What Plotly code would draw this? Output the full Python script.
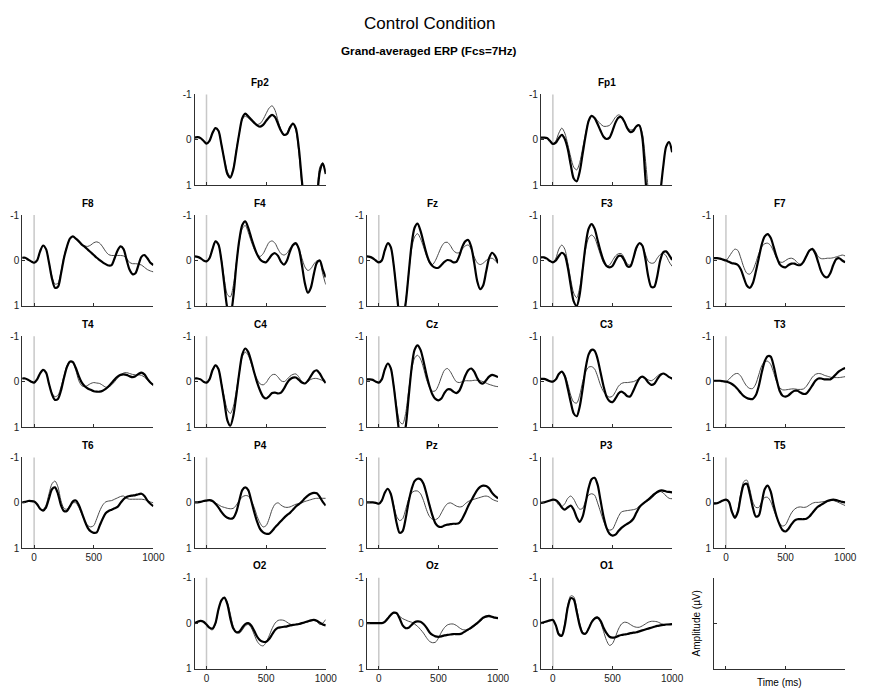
import plotly.graph_objects as go

# ---------------- data (µV, time in ms) ----------------
TIME = list(range(-100, 1001, 25))
X_TICKS = [0, 500, 1000]
Y_TICKS = [-1, 0, 1]

# thick trace (A) and thin trace (B) for each channel, sampled on TIME
FP2_A = [-0.05,-0.06,-0.04,0.02,0.08,0.02,-0.15,-0.26,-0.2,0.1,0.45,0.75,0.83,0.65,0.25,-0.15,-0.48,-0.58,-0.52,-0.45,-0.38,-0.32,-0.29,-0.33,-0.42,-0.5,-0.55,-0.5,-0.35,-0.2,-0.11,-0.13,-0.27,-0.36,-0.25,0.2,0.9,1.5,1.8,1.8,1.6,1.3,0.7,0.52,0.75]
FP2_B = [-0.05,-0.06,-0.04,0.02,0.08,0.02,-0.15,-0.26,-0.2,0.1,0.42,0.7,0.8,0.62,0.22,-0.15,-0.45,-0.52,-0.48,-0.42,-0.36,-0.34,-0.36,-0.45,-0.58,-0.7,-0.75,-0.65,-0.42,-0.22,-0.12,-0.15,-0.3,-0.37,-0.2,0.3,1.0,1.5,1.8,1.8,1.6,1.2,0.6,0.5,0.75]
FP1_A = [-0.05,-0.05,-0.04,0.02,0.09,0.06,-0.04,-0.11,-0.02,0.2,0.55,0.85,0.91,0.7,0.3,-0.1,-0.42,-0.53,-0.48,-0.35,-0.2,-0.07,-0.02,-0.05,-0.2,-0.38,-0.49,-0.5,-0.4,-0.25,-0.17,-0.2,-0.3,-0.32,-0.05,0.8,1.6,2.0,2.0,1.8,1.2,0.6,0.15,0.05,0.27]
FP1_B = [-0.05,-0.05,-0.04,0.02,0.08,0.02,-0.15,-0.26,-0.15,0.1,0.38,0.6,0.66,0.5,0.18,-0.15,-0.43,-0.53,-0.5,-0.42,-0.35,-0.3,-0.3,-0.32,-0.4,-0.5,-0.55,-0.52,-0.4,-0.28,-0.22,-0.23,-0.3,-0.32,-0.15,0.4,1.1,1.7,2.0,2.0,1.9,1.8,1.7,1.6,1.5]
F8_A = [-0.06,-0.06,-0.02,0.02,0.05,0.0,-0.2,-0.33,-0.25,0.05,0.4,0.6,0.58,0.3,-0.05,-0.3,-0.48,-0.53,-0.48,-0.42,-0.35,-0.3,-0.24,-0.18,-0.12,-0.06,-0.01,0.04,0.08,0.11,0.1,-0.05,-0.22,-0.31,-0.25,-0.02,0.2,0.3,0.28,0.1,-0.08,-0.12,-0.05,0.05,0.1]
F8_B = [-0.06,-0.06,-0.02,0.02,0.05,0.0,-0.2,-0.33,-0.25,0.05,0.35,0.52,0.5,0.25,-0.08,-0.32,-0.48,-0.53,-0.48,-0.42,-0.35,-0.32,-0.31,-0.34,-0.39,-0.41,-0.38,-0.3,-0.2,-0.13,-0.11,-0.11,-0.11,-0.11,-0.1,-0.05,0.04,0.07,0.07,0.08,0.1,0.15,0.2,0.23,0.25]
F4_A = [-0.09,-0.08,-0.05,0.0,0.02,-0.05,-0.25,-0.42,-0.35,0.0,0.55,1.05,1.2,0.8,0.1,-0.45,-0.78,-0.86,-0.72,-0.5,-0.3,-0.13,-0.02,0.03,0.04,-0.04,-0.13,-0.16,-0.1,0.03,0.09,0.0,-0.2,-0.34,-0.38,-0.25,0.1,0.5,0.71,0.6,0.3,0.05,0.0,0.2,0.37]
F4_B = [-0.09,-0.08,-0.05,0.0,0.02,-0.05,-0.25,-0.42,-0.35,-0.02,0.42,0.75,0.8,0.55,0.05,-0.42,-0.7,-0.77,-0.62,-0.42,-0.25,-0.13,-0.09,-0.15,-0.28,-0.4,-0.43,-0.38,-0.25,-0.15,-0.12,-0.16,-0.26,-0.33,-0.35,-0.25,-0.05,0.14,0.22,0.18,0.08,0.01,0.02,0.3,0.53]
FZ_A = [-0.09,-0.08,-0.05,0.0,0.04,0.0,-0.22,-0.38,-0.3,0.1,0.7,1.2,1.3,0.95,0.3,-0.35,-0.72,-0.81,-0.65,-0.4,-0.15,0.03,0.12,0.16,0.16,0.1,0.03,-0.01,0.0,0.04,0.03,-0.1,-0.3,-0.42,-0.45,-0.3,0.05,0.45,0.63,0.55,0.25,-0.05,-0.17,-0.1,0.06]
FZ_B = [-0.09,-0.08,-0.05,0.0,0.04,0.0,-0.22,-0.38,-0.3,0.1,0.65,1.15,1.25,0.9,0.3,-0.25,-0.52,-0.59,-0.48,-0.3,-0.1,0.05,0.09,0.0,-0.15,-0.3,-0.39,-0.4,-0.33,-0.22,-0.17,-0.17,-0.25,-0.32,-0.34,-0.25,-0.08,0.05,0.09,0.06,0.0,-0.04,-0.05,0.0,0.06]
F3_A = [-0.07,-0.07,-0.04,0.01,0.04,0.0,-0.1,-0.17,-0.12,0.15,0.55,0.9,1.0,0.75,0.2,-0.35,-0.7,-0.8,-0.7,-0.45,-0.2,0.0,0.12,0.15,0.12,0.0,-0.1,-0.1,0.0,0.13,0.13,-0.05,-0.28,-0.38,-0.33,-0.05,0.35,0.58,0.58,0.35,0.0,-0.18,-0.2,-0.12,-0.01]
F3_B = [-0.07,-0.07,-0.04,0.01,0.04,-0.05,-0.25,-0.34,-0.25,0.05,0.42,0.72,0.82,0.6,0.15,-0.25,-0.5,-0.56,-0.5,-0.32,-0.12,0.05,0.12,0.1,0.0,-0.1,-0.15,-0.15,-0.05,0.08,0.1,-0.05,-0.25,-0.37,-0.33,-0.15,0.02,0.06,0.05,-0.05,-0.13,-0.16,-0.1,0.03,0.13]
F7_A = [-0.05,-0.05,-0.04,-0.02,0.0,0.03,0.06,0.07,0.1,0.2,0.38,0.55,0.6,0.5,0.25,-0.05,-0.35,-0.53,-0.58,-0.5,-0.3,-0.08,0.08,0.14,0.15,0.1,0.07,0.07,0.1,0.1,0.03,-0.1,-0.22,-0.25,-0.15,0.05,0.25,0.35,0.37,0.28,0.1,-0.03,-0.05,0.0,0.04]
F7_B = [-0.05,-0.05,-0.04,-0.02,0.0,-0.08,-0.18,-0.25,-0.22,-0.05,0.15,0.28,0.3,0.22,0.05,-0.15,-0.3,-0.37,-0.38,-0.33,-0.2,-0.05,0.03,0.04,0.0,-0.04,-0.05,-0.02,0.05,0.08,0.03,-0.1,-0.22,-0.27,-0.2,-0.08,-0.04,-0.04,-0.05,-0.05,-0.06,-0.08,-0.1,-0.12,-0.1]
T4_A = [-0.07,-0.07,-0.04,0.0,0.02,-0.05,-0.18,-0.26,-0.2,0.05,0.28,0.4,0.38,0.2,-0.08,-0.32,-0.44,-0.43,-0.3,-0.12,0.02,0.1,0.15,0.18,0.21,0.22,0.22,0.2,0.16,0.1,0.03,-0.05,-0.11,-0.15,-0.16,-0.15,-0.12,-0.1,-0.12,-0.17,-0.2,-0.16,-0.06,0.02,0.07]
T4_B = [-0.07,-0.07,-0.04,0.0,0.02,-0.05,-0.18,-0.26,-0.2,0.05,0.25,0.33,0.3,0.12,-0.12,-0.35,-0.45,-0.42,-0.25,-0.02,0.09,0.11,0.08,0.04,0.02,0.03,0.04,0.08,0.12,0.12,0.07,0.0,-0.08,-0.15,-0.19,-0.2,-0.18,-0.16,-0.15,-0.15,-0.14,-0.1,-0.04,0.03,0.09]
C4_A = [-0.07,-0.07,-0.05,0.0,0.02,-0.05,-0.25,-0.36,-0.28,0.05,0.45,0.85,0.97,0.75,0.3,-0.2,-0.6,-0.73,-0.65,-0.45,-0.2,0.02,0.2,0.33,0.37,0.32,0.25,0.24,0.26,0.24,0.15,0.03,-0.05,-0.09,-0.09,-0.04,0.02,0.04,-0.02,-0.12,-0.22,-0.25,-0.18,-0.06,0.03]
C4_B = [-0.07,-0.07,-0.05,0.0,0.02,-0.05,-0.25,-0.36,-0.28,0.03,0.35,0.62,0.7,0.55,0.2,-0.2,-0.55,-0.65,-0.58,-0.4,-0.2,-0.05,0.05,0.07,0.02,-0.08,-0.15,-0.16,-0.1,-0.02,0.0,-0.05,-0.12,-0.16,-0.17,-0.1,0.0,0.04,0.0,-0.05,-0.07,-0.07,-0.05,-0.02,0.02]
CZ_A = [-0.05,-0.05,-0.04,0.0,0.02,-0.05,-0.27,-0.4,-0.3,0.1,0.65,1.15,1.3,1.0,0.35,-0.3,-0.7,-0.8,-0.7,-0.45,-0.15,0.1,0.28,0.38,0.41,0.37,0.25,0.17,0.17,0.22,0.25,0.2,0.05,-0.13,-0.25,-0.29,-0.22,-0.08,0.02,0.04,-0.03,-0.11,-0.15,-0.13,-0.1]
CZ_B = [-0.05,-0.05,-0.04,0.0,0.02,-0.05,-0.27,-0.4,-0.3,0.08,0.55,0.88,0.93,0.7,0.2,-0.25,-0.52,-0.58,-0.5,-0.3,-0.05,0.12,0.21,0.2,0.08,-0.1,-0.25,-0.29,-0.22,-0.1,0.0,0.02,0.0,-0.02,-0.02,-0.02,-0.03,-0.03,-0.02,0.0,0.03,0.06,0.08,0.1,0.11]
C3_A = [-0.06,-0.06,-0.04,-0.01,0.0,-0.05,-0.17,-0.22,-0.12,0.15,0.45,0.7,0.76,0.55,0.15,-0.3,-0.6,-0.7,-0.68,-0.5,-0.2,0.1,0.33,0.43,0.45,0.37,0.26,0.22,0.26,0.32,0.32,0.2,0.05,-0.07,-0.11,-0.07,0.02,0.07,0.05,-0.05,-0.14,-0.18,-0.15,-0.1,-0.07]
C3_B = [-0.06,-0.06,-0.04,-0.01,0.0,-0.05,-0.17,-0.22,-0.14,0.05,0.3,0.45,0.47,0.3,0.0,-0.22,-0.32,-0.33,-0.28,-0.12,0.08,0.22,0.3,0.34,0.32,0.22,0.1,0.04,0.02,0.02,0.01,0.0,-0.03,-0.07,-0.11,-0.08,-0.04,-0.02,-0.06,-0.12,-0.17,-0.18,-0.15,-0.1,-0.05]
T3_A = [-0.02,-0.02,-0.02,-0.01,0.0,0.02,0.05,0.1,0.17,0.25,0.32,0.36,0.38,0.38,0.3,0.1,-0.2,-0.45,-0.56,-0.55,-0.35,-0.05,0.2,0.31,0.33,0.3,0.24,0.2,0.2,0.24,0.27,0.26,0.18,0.08,-0.02,-0.07,-0.07,-0.05,-0.05,-0.05,-0.1,-0.17,-0.23,-0.27,-0.3]
T3_B = [-0.02,-0.02,-0.02,-0.01,0.0,-0.05,-0.12,-0.17,-0.18,-0.12,0.0,0.1,0.15,0.15,0.05,-0.15,-0.35,-0.44,-0.45,-0.38,-0.2,0.0,0.13,0.18,0.18,0.17,0.16,0.16,0.17,0.17,0.16,0.1,0.0,-0.1,-0.16,-0.18,-0.17,-0.14,-0.12,-0.1,-0.09,-0.09,-0.09,-0.1,-0.11]
T6_A = [-0.01,-0.02,-0.04,-0.04,-0.03,0.03,0.13,0.17,0.1,-0.1,-0.3,-0.34,-0.2,0.05,0.18,0.18,0.08,-0.03,-0.05,0.05,0.22,0.4,0.55,0.63,0.66,0.65,0.5,0.35,0.23,0.18,0.15,0.12,0.09,0.0,-0.08,-0.13,-0.15,-0.16,-0.17,-0.19,-0.2,-0.15,-0.05,0.02,0.07]
T6_B = [-0.01,-0.02,-0.04,-0.04,-0.03,0.03,0.13,0.15,0.05,-0.2,-0.42,-0.48,-0.35,-0.05,0.12,0.14,0.06,0.0,0.0,0.1,0.25,0.4,0.5,0.53,0.5,0.35,0.18,0.05,-0.02,-0.04,-0.05,-0.08,-0.11,-0.14,-0.15,-0.1,-0.08,-0.08,-0.08,-0.08,-0.08,-0.07,-0.05,-0.02,0.0]
P4_A = [-0.01,-0.01,-0.02,-0.04,-0.05,-0.06,-0.04,0.02,0.1,0.2,0.28,0.33,0.35,0.33,0.2,-0.05,-0.28,-0.34,-0.28,-0.05,0.2,0.42,0.58,0.65,0.68,0.68,0.62,0.54,0.47,0.4,0.33,0.27,0.22,0.15,0.08,0.03,-0.03,-0.1,-0.16,-0.2,-0.22,-0.21,-0.13,-0.02,0.06]
P4_B = [-0.01,-0.01,-0.02,-0.04,-0.05,-0.05,-0.03,0.0,0.04,0.08,0.1,0.12,0.13,0.12,0.05,-0.05,-0.13,-0.16,-0.15,-0.05,0.1,0.3,0.45,0.53,0.5,0.35,0.15,0.03,0.0,0.05,0.09,0.1,0.09,0.06,0.03,0.02,0.0,-0.03,-0.05,-0.07,-0.09,-0.1,-0.1,-0.1,-0.1]
PZ_A = [-0.01,-0.01,-0.01,0.0,0.02,-0.05,-0.22,-0.31,-0.2,0.1,0.45,0.66,0.62,0.35,-0.02,-0.3,-0.48,-0.53,-0.52,-0.42,-0.2,0.05,0.28,0.45,0.52,0.53,0.5,0.48,0.47,0.46,0.46,0.44,0.35,0.22,0.07,-0.05,-0.17,-0.28,-0.35,-0.38,-0.37,-0.32,-0.22,-0.15,-0.1]
PZ_B = [-0.01,-0.01,-0.01,0.0,0.02,-0.05,-0.22,-0.31,-0.2,0.05,0.3,0.39,0.35,0.15,-0.08,-0.22,-0.26,-0.26,-0.2,-0.05,0.15,0.3,0.36,0.37,0.33,0.22,0.1,0.02,0.0,0.03,0.07,0.09,0.08,0.02,-0.03,-0.06,-0.08,-0.1,-0.12,-0.14,-0.15,-0.13,-0.08,-0.05,-0.03]
P3_A = [0.0,-0.01,-0.03,-0.05,-0.07,-0.06,0.0,0.1,0.15,0.1,0.06,0.15,0.32,0.42,0.3,0.0,-0.33,-0.52,-0.55,-0.4,-0.05,0.3,0.55,0.68,0.72,0.7,0.62,0.55,0.5,0.46,0.42,0.35,0.22,0.1,0.03,-0.02,-0.07,-0.13,-0.19,-0.24,-0.27,-0.27,-0.25,-0.24,-0.23]
P3_B = [0.0,-0.01,-0.03,-0.05,-0.07,-0.04,0.05,0.08,0.02,-0.1,-0.15,-0.08,0.05,0.14,0.12,-0.05,-0.17,-0.2,-0.17,0.0,0.2,0.4,0.55,0.6,0.58,0.45,0.3,0.2,0.18,0.17,0.16,0.15,0.13,0.07,0.02,-0.02,-0.05,-0.1,-0.16,-0.22,-0.25,-0.22,-0.15,-0.1,-0.09]
T5_A = [0.02,0.01,-0.02,-0.05,-0.07,-0.02,0.2,0.33,0.2,-0.15,-0.4,-0.42,-0.2,0.1,0.3,0.28,0.0,-0.3,-0.38,-0.25,0.05,0.3,0.48,0.6,0.63,0.57,0.47,0.39,0.36,0.36,0.36,0.35,0.3,0.22,0.14,0.08,0.04,0.0,-0.04,-0.06,-0.07,-0.06,-0.04,-0.02,-0.01]
T5_B = [0.02,0.01,-0.02,-0.05,-0.07,-0.02,0.18,0.3,0.15,-0.22,-0.47,-0.5,-0.3,-0.02,0.1,0.1,-0.02,-0.12,-0.12,-0.03,0.15,0.32,0.45,0.51,0.48,0.35,0.22,0.14,0.1,0.09,0.1,0.09,0.05,0.01,-0.01,-0.01,-0.02,-0.03,-0.04,-0.05,-0.05,-0.03,0.0,0.03,0.06]
O2_A = [0.0,-0.03,-0.05,-0.03,0.03,0.1,0.12,0.0,-0.3,-0.5,-0.56,-0.42,-0.1,0.12,0.2,0.19,0.1,0.02,0.0,0.05,0.17,0.3,0.38,0.41,0.41,0.35,0.25,0.15,0.1,0.09,0.08,0.07,0.05,0.04,0.03,0.02,0.0,-0.02,-0.04,-0.06,-0.07,-0.05,-0.01,0.03,0.05]
O2_B = [0.0,-0.03,-0.05,-0.03,0.03,0.12,0.15,0.02,-0.28,-0.5,-0.56,-0.45,-0.2,0.08,0.2,0.22,0.15,0.06,0.03,0.1,0.25,0.4,0.48,0.5,0.42,0.28,0.12,0.0,-0.06,-0.07,-0.06,-0.02,0.02,0.04,0.03,0.02,0.01,-0.01,-0.03,-0.05,-0.06,-0.04,0.03,0.0,-0.08]
OZ_A = [0.0,0.0,0.0,0.0,0.0,0.0,-0.03,-0.1,-0.18,-0.23,-0.22,-0.1,0.05,0.11,0.1,0.04,-0.02,-0.04,-0.03,0.02,0.1,0.2,0.26,0.29,0.3,0.29,0.27,0.26,0.25,0.24,0.24,0.24,0.22,0.18,0.14,0.1,0.05,0.0,-0.06,-0.12,-0.15,-0.16,-0.14,-0.12,-0.11]
OZ_B = [0.0,0.0,0.0,0.0,0.0,0.0,-0.04,-0.12,-0.2,-0.23,-0.2,-0.15,-0.1,-0.07,-0.04,-0.02,0.02,0.07,0.14,0.22,0.32,0.4,0.43,0.42,0.33,0.2,0.1,0.04,0.02,0.02,0.05,0.1,0.14,0.15,0.14,0.12,0.07,0.02,-0.04,-0.1,-0.13,-0.14,-0.13,-0.12,-0.12]
O1_A = [0.0,-0.02,-0.04,-0.06,-0.07,0.05,0.25,0.28,0.05,-0.35,-0.55,-0.52,-0.25,0.05,0.22,0.23,0.12,-0.02,-0.1,-0.12,-0.05,0.1,0.22,0.3,0.32,0.31,0.28,0.26,0.25,0.24,0.22,0.21,0.2,0.18,0.16,0.14,0.12,0.1,0.08,0.06,0.05,0.04,0.03,0.03,0.02]
O1_B = [0.0,-0.02,-0.04,-0.06,-0.07,0.05,0.22,0.25,0.0,-0.4,-0.6,-0.58,-0.32,0.0,0.2,0.24,0.12,-0.04,-0.12,-0.14,-0.02,0.18,0.38,0.49,0.45,0.3,0.13,0.02,-0.02,-0.01,0.03,0.07,0.09,0.09,0.06,0.02,-0.02,-0.04,-0.04,-0.03,0.0,0.03,0.03,0.02,0.02]

CHANNELS = ["Fp2", "Fp1", "F8", "F4", "Fz", "F3", "F7", "T4", "C4", "Cz",
            "C3", "T3", "T6", "P4", "Pz", "P3", "T5", "O2", "Oz", "O1"]
SERIES_A = [FP2_A, FP1_A, F8_A, F4_A, FZ_A, F3_A, F7_A, T4_A, C4_A, CZ_A,
            C3_A, T3_A, T6_A, P4_A, PZ_A, P3_A, T5_A, O2_A, OZ_A, O1_A]
SERIES_B = [FP2_B, FP1_B, F8_B, F4_B, FZ_B, F3_B, F7_B, T4_B, C4_B, CZ_B,
            C3_B, T3_B, T6_B, P4_B, PZ_B, P3_B, T5_B, O2_B, OZ_B, O1_B]

# ---------------- layout (grid placement) ----------------
W, H = 871, 697
GRID_POS = {"Fp2": (0, 1), "Fp1": (0, 3),
            "F8": (1, 0), "F4": (1, 1), "Fz": (1, 2), "F3": (1, 3), "F7": (1, 4),
            "T4": (2, 0), "C4": (2, 1), "Cz": (2, 2), "C3": (2, 3), "T3": (2, 4),
            "T6": (3, 0), "P4": (3, 1), "Pz": (3, 2), "P3": (3, 3), "T5": (3, 4),
            "O2": (4, 1), "Oz": (4, 2), "O1": (4, 3)}
SHOW_XLABELS = {"T6", "T5", "O2", "Oz", "O1"}
COL_LEFT = [22.5, 197.3, 372.0, 548.5, 724.0]
ROW_TOP = [90.0, 212.7, 336.0, 459.3, 581.7]
PW, PH = 133.0, 92.5

FONT = "Liberation Sans, Arial, sans-serif"
AX_COL = "#303030"

fig = go.Figure()
shapes, annotations = [], []


def panel_domain(col, row):
    x0 = COL_LEFT[col] / W
    x1 = (COL_LEFT[col] + PW) / W
    y1 = 1 - ROW_TOP[row] / H
    y0 = 1 - (ROW_TOP[row] + PH) / H
    return (x0, x1, y0, y1)


def add_axes(i, dom, show_xlabels, show_ylabels=True):
    x0, x1, y0, y1 = dom
    sfx = "" if i == 1 else str(i)
    fig.layout["xaxis" + sfx] = dict(
        domain=[x0, x1], anchor="y" + sfx, range=[-100, 1000],
        tickvals=X_TICKS, ticktext=[str(v) for v in X_TICKS],
        showticklabels=show_xlabels, ticks="inside", ticklen=3,
        tickcolor=AX_COL, showline=True, linecolor=AX_COL, linewidth=1,
        showgrid=False, zeroline=False, fixedrange=True,
        tickfont=dict(family=FONT, size=10, color="#222"))
    fig.layout["yaxis" + sfx] = dict(
        domain=[y0, y1], anchor="x" + sfx, range=[1, -1],
        tickvals=Y_TICKS, ticktext=[str(v) for v in Y_TICKS],
        showticklabels=show_ylabels, ticks="inside", ticklen=3,
        tickcolor=AX_COL, showline=True, linecolor=AX_COL, linewidth=1,
        showgrid=False, zeroline=False, fixedrange=True,
        tickfont=dict(family=FONT, size=10, color="#222"))


for k, ch in enumerate(CHANNELS):
    i = k + 1
    sfx = "" if i == 1 else str(i)
    row, col = GRID_POS[ch]
    dom = panel_domain(col, row)
    add_axes(i, dom, ch in SHOW_XLABELS)
    shapes.append(dict(type="line", xref="x" + sfx, yref="y" + sfx + " domain",
                       x0=0, x1=0, y0=0, y1=1, layer="below",
                       line=dict(color="#c8c8c8", width=1.5)))
    fig.add_trace(go.Scatter(x=TIME, y=SERIES_B[k], mode="lines",
                             line=dict(color="#4a4a4a", width=1, shape="spline", smoothing=0.8),
                             xaxis="x" + sfx, yaxis="y" + sfx, showlegend=False,
                             hoverinfo="skip"))
    fig.add_trace(go.Scatter(x=TIME, y=SERIES_A[k], mode="lines",
                             line=dict(color="#000000", width=2.2, shape="spline", smoothing=0.8),
                             xaxis="x" + sfx, yaxis="y" + sfx, showlegend=False,
                             hoverinfo="skip"))
    annotations.append(dict(text="<b>%s</b>" % ch, xref="paper", yref="paper",
                            x=(dom[0] + dom[1]) / 2, y=dom[3] + 12 / H,
                            xanchor="center", yanchor="middle", showarrow=False,
                            font=dict(family=FONT, size=10, color="#000")))

# scale-legend panel (bottom right)
i = len(CHANNELS) + 1
sfx = str(i)
dom = panel_domain(4, 4)
add_axes(i, dom, False, False)
fig.add_trace(go.Scatter(x=[None], y=[None], xaxis="x" + sfx, yaxis="y" + sfx,
                         showlegend=False, hoverinfo="skip"))
annotations.append(dict(text="Time (ms)", xref="paper", yref="paper",
                        x=(dom[0] + dom[1]) / 2, y=1 - 688 / H, xanchor="center",
                        yanchor="middle", showarrow=False,
                        font=dict(family=FONT, size=10, color="#000")))
annotations.append(dict(text="Amplitude (µV)", xref="paper", yref="paper",
                        x=706 / W, y=(dom[2] + dom[3]) / 2, xanchor="center",
                        yanchor="middle", textangle=-90, showarrow=False,
                        font=dict(family=FONT, size=10, color="#000")))

# titles
annotations.append(dict(text="Control Condition", xref="paper", yref="paper",
                        x=435 / W, y=1 - 18 / H, xanchor="center", yanchor="middle",
                        showarrow=False,
                        font=dict(family=FONT, size=17, color="#000")))
annotations.append(dict(text="<b>Grand-averaged ERP (Fcs=7Hz)</b>", xref="paper", yref="paper",
                        x=435 / W, y=1 - 45 / H, xanchor="center", yanchor="middle",
                        showarrow=False, font=dict(family=FONT, size=11.7, color="#000")))

fig.update_layout(width=W, height=H, margin=dict(l=0, r=0, t=0, b=0),
                  paper_bgcolor="white", plot_bgcolor="white",
                  shapes=shapes, annotations=annotations, showlegend=False)

fig.write_html("out.html", config={"responsive": False, "displayModeBar": False})
